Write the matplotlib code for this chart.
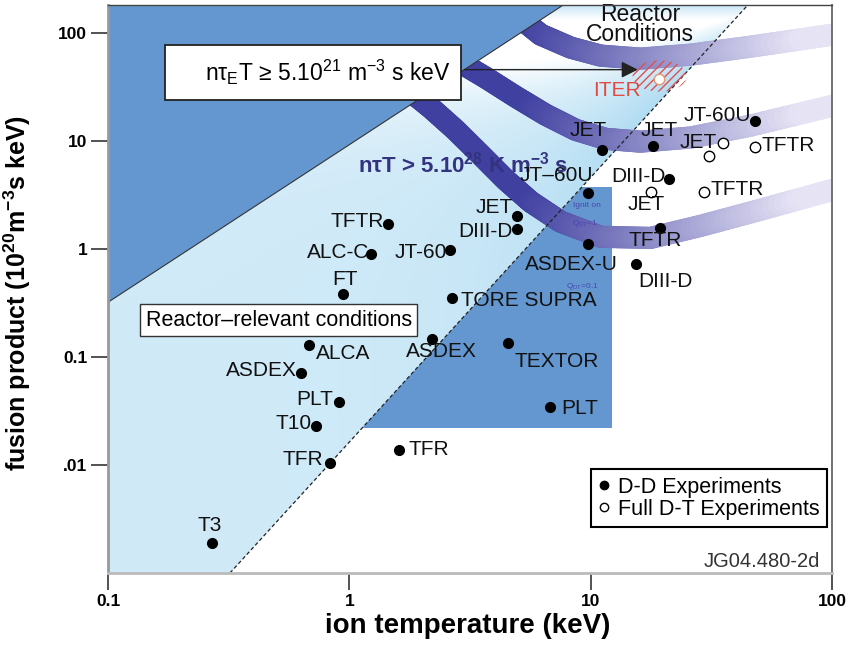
import numpy as np
import matplotlib
matplotlib.use('Agg')
import matplotlib.pyplot as plt
from matplotlib.collections import LineCollection
from matplotlib.patches import Polygon, Rectangle, Ellipse
from matplotlib.path import Path
from matplotlib.lines import Line2D

plt.rcParams['font.family'] = ['Liberation Sans', 'DejaVu Sans']
plt.rcParams['mathtext.default'] = 'regular'

# axis ranges
x_lim = [0.1, 100]
y_lim = [1e-3, 180]

# D-D experiments (filled dots)
dd_names = ['T3', 'TFR', 'T10', 'PLT', 'ASDEX', 'ALCA', 'FT', 'ALC-C', 'TFTR', 'JT-60',
            'JET', 'DIII-D', 'TORE SUPRA', 'ASDEX', 'TEXTOR', 'PLT', 'TFR', 'JT\u201360U',
            'ASDEX-U', 'JET', 'JET', 'JT-60U', 'DIII-D', 'TFTR', 'DIII-D']
dd_T = [0.27, 0.83, 0.73, 0.91, 0.63, 0.68, 0.94, 1.23, 1.44, 2.62,
        4.97, 4.93, 2.65, 2.21, 4.53, 6.76, 1.61, 9.73,
        9.73, 11.1, 18.1, 47.9, 21.1, 19.3, 15.4]
dd_y = [0.0019, 0.0104, 0.023, 0.038, 0.071, 0.129, 0.38, 0.90, 1.70, 0.98,
        2.02, 1.53, 0.35, 0.147, 0.135, 0.034, 0.0138, 3.30,
        1.11, 8.26, 9.0, 15.3, 4.45, 1.56, 0.73]

# full D-T experiments (open circles)
dt_names = ['ITER', 'JET', '', 'TFTR', 'TFTR', 'JET']
dt_T = [19.1, 35.3, 30.9, 47.9, 29.4, 17.7]
dt_y = [37.5, 9.57, 7.26, 8.8, 3.37, 3.37]

# region boundaries
lim_T = [0.1, 7.7]      # upper edge of reactor-relevant band
lim_y = [0.32, 180]
ign_T = [0.32, 44.8]    # dashed line
ign_y = [1e-3, 180]
q_T = 12.2              # right edge of Q box
q_y = [0.022, 3.75]

# n tau T bands
band1_T = [4.89, 6.20, 8.26, 11.0, 16.1, 26.0, 46.1, 101]
band1_y = [147, 95.8, 72.6, 61.2, 57.4, 62.5, 74.1, 95.8]
band2_T = [2.75, 3.67, 4.89, 6.50, 8.66, 11.5, 16.1, 26.0, 46.1, 101]
band2_y = [56.2, 38.3, 25.5, 17.4, 12.6, 10.4, 9.79, 10.7, 13.8, 21.1]
band3_T = [1.71, 2.17, 2.75, 3.50, 4.44, 5.64, 7.51, 11.0, 17.7, 28.6, 50.7, 101]
band3_y = [31.0, 20.2, 12.6, 7.41, 4.35, 2.72, 1.78, 1.29, 1.26, 1.63, 2.30, 3.52]

# label offsets in pixels (dx, dy, ha)
dd_offs = [(-2, 17, 'center'), (-7, 4, 'right'), (-5, 2, 'right'), (-6, 3, 'right'),
           (-4, 2, 'right'), (7, -9, 'left'), (2, 15, 'center'), (-2, 1, 'right'),
           (-4, 2, 'right'), (-3, -3, 'right'), (-5, 8, 'right'), (-4, -3, 'right'),
           (9, -2, 'left'), (9, -13, 'center'), (7, -19, 'left'), (12, -1, 'left'),
           (9, 0, 'left'), (-31, 17, 'center'), (-16, -21, 'center'), (-13, 19, 'center'),
           (6, 15, 'center'), (-4, 5, 'right'), (-3, 2, 'right'), (-4, -13, 'center'),
           (29, -18, 'center')]
dt_offs = [(-18, -12, 'right'), (-6, 0, 'right'), (0, 0, 'center'), (7, 1, 'left'),
           (7, 2, 'left'), (-4, -13, 'center')]


def x_at(lT, ly, y):
    a, b = np.log10(lT), np.log10(ly)
    return 10 ** (a[0] + (np.log10(y) - b[0]) * (a[1] - a[0]) / (b[1] - b[0]))


def y_at(lT, ly, T):
    a, b = np.log10(lT), np.log10(ly)
    return 10 ** (b[0] + (np.log10(T) - a[0]) * (b[1] - b[0]) / (a[1] - a[0]))


fig = plt.figure(figsize=(8.56, 6.48), dpi=100)
ax = fig.add_axes([0.1262, 0.1157, 0.8458, 0.8766])
ax.set_xscale('log')
ax.set_yscale('log')
ax.set_xlim(x_lim)
ax.set_ylim(y_lim)
ax.set_facecolor('white')

x0, x1 = x_lim
y0, y1 = y_lim
dark_blue = '#6497cf'

# light band between the two lines, with gradient
light_verts = [(x0, y0), (x_at(ign_T, ign_y, y0), y0), (x_at(ign_T, ign_y, y1), y1),
               (x_at(lim_T, lim_y, y1), y1), (x0, y_at(lim_T, lim_y, x0))]
light_poly = Polygon(light_verts, closed=True, transform=ax.transData, fc='none', ec='none')

bb = ax.get_position()
W = bb.width * fig.get_figwidth() * fig.dpi
H = bb.height * fig.get_figheight() * fig.dpi
lgx0, lgx1 = np.log10(x_lim)
lgy0, lgy1 = np.log10(y_lim)
gx = np.linspace(0, W, 400)
gy = np.linspace(0, H, 300)
GX, GY = np.meshgrid(gx, gy)
p0 = ((np.log10(ign_T[0]) - lgx0) / (lgx1 - lgx0) * W, (np.log10(ign_y[0]) - lgy0) / (lgy1 - lgy0) * H)
p1 = ((np.log10(ign_T[1]) - lgx0) / (lgx1 - lgx0) * W, (np.log10(ign_y[1]) - lgy0) / (lgy1 - lgy0) * H)
dx, dy = p1[0] - p0[0], p1[1] - p0[1]
dist = (dx * (GY - p0[1]) - dy * (GX - p0[0])) / np.hypot(dx, dy)
near = np.clip(1 - dist / 175.0, 0, 1)
top = 0.6 * np.clip((GY / H - 0.72) / 0.28, 0, 1)
s = np.maximum(near, top)[..., None]
blue = np.array([0.62, 0.83, 0.94])
img = np.array([1.0, 1.0, 1.0]) * (1 - s) + blue * s
im = ax.imshow(img, extent=(x0, x1, y0, y1), origin='lower', aspect='auto', zorder=0.5,
               interpolation='bilinear')
im.set_clip_path(light_poly)

# Q box region (right of dashed line)
q_verts = [(x_at(ign_T, ign_y, q_y[0]), q_y[0]), (q_T, q_y[0]), (q_T, q_y[1]),
           (x_at(ign_T, ign_y, q_y[1]), q_y[1])]
ax.add_patch(Polygon(q_verts, closed=True, fc=dark_blue, ec='none', zorder=1))

# bands
dark = np.array([0.25, 0.25, 0.63])
pale = np.array([0.90, 0.89, 0.96])
for bT, by in [(band1_T, band1_y), (band2_T, band2_y), (band3_T, band3_y)]:
    pts = np.column_stack([np.log10(bT), np.log10(by)])
    v = Path(pts).interpolated(12).vertices
    segs = [[(10 ** v[i, 0], 10 ** v[i, 1]), (10 ** v[i + 1, 0], 10 ** v[i + 1, 1])]
            for i in range(len(v) - 1)]
    fx = ((v[:-1, 0] + v[1:, 0]) / 2 - lgx0) / (lgx1 - lgx0)
    tt = np.clip((fx - 0.58) / 0.38, 0, 1)[:, None]
    cols = dark * (1 - tt) + pale * tt
    lc = LineCollection(segs, colors=cols, linewidths=16, capstyle='round', zorder=2)
    ax.add_collection(lc)

# dark blue upper-left region
dark_verts = [(x0, y_at(lim_T, lim_y, x0)), (x_at(lim_T, lim_y, y1), y1), (x0, y1)]
ax.add_patch(Polygon(dark_verts, closed=True, fc=dark_blue, ec='#333333', lw=0.8, zorder=3))

# dashed line
ax.plot(ign_T, ign_y, ls=(0, (3, 2)), color='#222222', lw=0.9, zorder=3.5)

# formula box + arrow
ax.add_patch(Rectangle((0.0787, 0.8327), 0.4089, 0.0969, transform=ax.transAxes,
                       fc='white', ec='#222222', lw=1.3, zorder=5))
ax.text(0.303, 0.882, 'n\u03c4$_E$T \u2265 5.10$^{21}$ m$^{-3}$ s keV', transform=ax.transAxes,
        ha='center', va='center', fontsize=16.5, zorder=6)
ax.annotate('', xy=(16.1, 45.4), xytext=(2.92, 45.4),
            arrowprops=dict(arrowstyle='-|>', lw=1, color='#222222', mutation_scale=25),
            zorder=6)

# ITER hatch
ax.add_patch(Ellipse((0.762, 0.875), 0.075, 0.055, transform=ax.transAxes, fc='none',
                     ec='#e05050', lw=0, hatch='////', zorder=4))

ax.text(0.236, 0.445, 'Reactor\u2013relevant conditions', transform=ax.transAxes,
        ha='center', va='center', fontsize=15.5, zorder=6,
        bbox=dict(boxstyle='square,pad=0.25', fc='white', ec='#333333', lw=1))

ax.text(2.97, 6.0, 'n\u03c4T > 5.10$^{28}$ K m$^{-3}$ s', ha='center', va='center',
        fontsize=16, fontweight='bold', color='#33337f', zorder=6)
ax.text(16.0, 119, 'Reactor\nConditions', ha='center', va='center', fontsize=16.5,
        linespacing=0.8, color='#111111', zorder=6)

ax.text(9.62, 2.50, 'Ignit on', ha='center', va='center', fontsize=6, color='#4848b0', zorder=6)
ax.text(9.44, 1.70, 'Q$_{DT}$=1', ha='center', va='center', fontsize=6, color='#4848b0', zorder=6)
ax.text(9.27, 0.445, 'Q$_{DT}$=0.1', ha='center', va='center', fontsize=6, color='#4848b0', zorder=6)

# points
ax.plot(dd_T, dd_y, 'o', ms=7, color='black', zorder=7)
ax.plot(dt_T[1:], dt_y[1:], 'o', ms=7.5, mfc='white', mec='black', mew=1, zorder=7)
ax.plot(dt_T[:1], dt_y[:1], 'o', ms=7.5, mfc='white', mec='#e8956a', mew=1, zorder=7)

for name, T, y, (ox, oy, ha) in zip(dd_names, dd_T, dd_y, dd_offs):
    ax.annotate(name, (T, y), xytext=(ox, oy), textcoords='offset pixels', ha=ha,
                va='center', fontsize=15, color='#111111', zorder=8)
for name, T, y, (ox, oy, ha) in zip(dt_names, dt_T, dt_y, dt_offs):
    col = '#e04a40' if name == 'ITER' else '#111111'
    ax.annotate(name, (T, y), xytext=(ox, oy), textcoords='offset pixels', ha=ha,
                va='center', fontsize=15, color=col, zorder=8)

# legend
handles = [Line2D([], [], ls='none', marker='o', ms=6, color='black'),
           Line2D([], [], ls='none', marker='o', ms=6, mfc='white', mec='black', mew=1)]
leg = ax.legend(handles, ['D-D Experiments', 'Full D-T Experiments'], loc='upper right',
                bbox_to_anchor=(0.993, 0.183), fontsize=15.5, frameon=True, fancybox=False,
                handlelength=0.5, handletextpad=0.4, labelspacing=0.05, borderpad=0.35,
                borderaxespad=0, edgecolor='black', framealpha=1)
leg.get_frame().set_linewidth(1.5)
leg.set_zorder(9)

ax.text(0.983, 0.021, 'JG04.480-2d', transform=ax.transAxes, ha='right', va='center',
        fontsize=14.5, color='#333333', zorder=8)

# axes styling
ax.set_xticks([0.1, 1, 10, 100])
ax.set_xticklabels(['0.1', '1', '10', '100'])
ax.set_yticks([0.01, 0.1, 1, 10, 100])
ax.set_yticklabels(['.01', '0.1', '1', '10', '100'])
ax.minorticks_off()
ax.tick_params(axis='both', direction='out', length=12, width=1.3, color='#444444',
               labelsize=12.5)
ax.tick_params(axis='y', pad=3)
ax.tick_params(axis='x', pad=3)
for lab in ax.get_xticklabels() + ax.get_yticklabels():
    lab.set_fontweight('bold')
ax.spines['left'].set_color('#999999')
ax.spines['left'].set_linewidth(2)
ax.spines['bottom'].set_color('#bbbbbb')
ax.spines['bottom'].set_linewidth(2)
ax.spines['top'].set_color('#444444')
ax.spines['top'].set_linewidth(1)
ax.spines['right'].set_color('#666666')
ax.spines['right'].set_linewidth(1.3)
for sp in ax.spines.values():
    sp.set_zorder(10)

ax.set_xlabel('ion temperature (keV)', fontsize=20, fontweight='bold')
ax.set_ylabel('fusion product (10$^{20}$m$^{-3}$s keV)', fontsize=18, fontweight='bold')
ax.xaxis.set_label_coords(0.497, -0.07)
ax.yaxis.set_label_coords(-0.104, 0.493)

fig.savefig('out.png', dpi=100)
